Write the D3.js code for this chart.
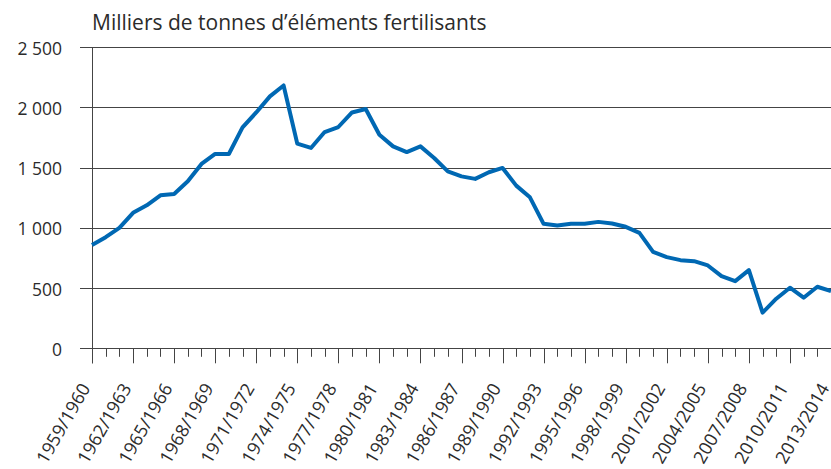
<!DOCTYPE html>
<meta charset="utf-8">
<head>
    <script type="text/javascript" src="https://cdn.jsdelivr.net/npm/d3@7"></script>
    <style>
        body {
            margin: 0;
            background: white;
            font-family: "Open Sans", Roboto, sans-serif;
        }
        .grid line {
            stroke: #444;
            stroke-width: 1;
        }
        .label {
            fill: #2b2b2b;
            font-size: 17.5px;
        }
    </style>
    <title>Fertilisants</title>
</head>
<body>
    <div id="chart"></div>
    <script>
        // campaign start years, 1959/1960 .. 2013/2014
        var years = d3.range(1959, 2014);
        var values = [858, 923, 1000, 1125, 1188, 1271, 1282, 1387, 1531, 1614,
                      1614, 1835, 1959, 2092, 2183, 1700, 1664, 1796, 1838, 1959,
                      1987, 1774, 1677, 1630, 1677, 1581, 1470, 1428, 1407, 1462,
                      1498, 1351, 1254, 1034, 1020, 1034, 1034, 1050, 1036, 1009,
                      959, 801, 757, 732, 724, 688, 600, 558, 649, 296,
                      412, 503, 420, 511, 475];
        var yTicks = [0, 500, 1000, 1500, 2000, 2500];
        var title = "Milliers de tonnes d\u2019éléments fertilisants";

        var w = 831, h = 469;
        var mLeft = 92, mRight = 831, mTop = 47.3, mBottom = 348.3;

        var svg = d3.select("#chart").append("svg")
            .attr("width", w)
            .attr("height", h);

        var x = d3.scaleLinear().domain([1959, 2013]).range([mLeft, mRight]);
        var y = d3.scaleLinear().domain([0, 2500]).range([mBottom, mTop]);

        var fmt = d => d3.format(",")(d).replace(",", " ");

        // gridlines
        var grid = svg.append("g").attr("class", "grid");
        grid.selectAll("line")
            .data(yTicks)
            .enter()
            .append("line")
            .attr("x1", mLeft - 12)
            .attr("x2", mRight)
            .attr("y1", d => Math.round(y(d)) + 0.5)
            .attr("y2", d => Math.round(y(d)) + 0.5);

        // y axis line
        svg.append("line")
            .attr("x1", mLeft + 0.5).attr("x2", mLeft + 0.5)
            .attr("y1", y(2500)).attr("y2", y(0) + 15)
            .attr("stroke", "#444");

        // y labels
        svg.append("g").selectAll("text")
            .data(yTicks)
            .enter()
            .append("text")
            .attr("class", "label")
            .attr("x", 62)
            .attr("y", d => y(d) + 7.5)
            .attr("text-anchor", "end")
            .text(fmt);

        // x ticks, long every 3 years
        svg.append("g").selectAll("line")
            .data(years)
            .enter()
            .append("line")
            .attr("x1", d => Math.round(x(d)) + 0.5)
            .attr("x2", d => Math.round(x(d)) + 0.5)
            .attr("y1", mBottom)
            .attr("y2", d => (d - 1959) % 3 === 0 ? mBottom + 15 : mBottom + 8.5)
            .attr("stroke", "#444");

        // x labels
        svg.append("g").selectAll("text")
            .data(years.filter(d => (d - 1959) % 3 === 0))
            .enter()
            .append("text")
            .attr("class", "label")
            .style("font-size", "18px")
            .attr("text-anchor", "end")
            .attr("transform", d => "translate(" + (x(d) - 1) + "," + 388 + ") rotate(-60)")
            .text(d => d + "/" + (d + 1));

        // title
        svg.append("text")
            .attr("class", "label")
            .attr("x", 92)
            .attr("y", 30)
            .style("font-size", "21px")
            .text(title);

        // line
        var line = d3.line()
            .x((d, i) => x(years[i]))
            .y(d => y(d));

        svg.append("path")
            .datum(values)
            .attr("d", line)
            .attr("fill", "none")
            .attr("stroke", "#0068b3")
            .attr("stroke-width", 4)
            .attr("stroke-linejoin", "round");
    </script>
</body>
</html>
